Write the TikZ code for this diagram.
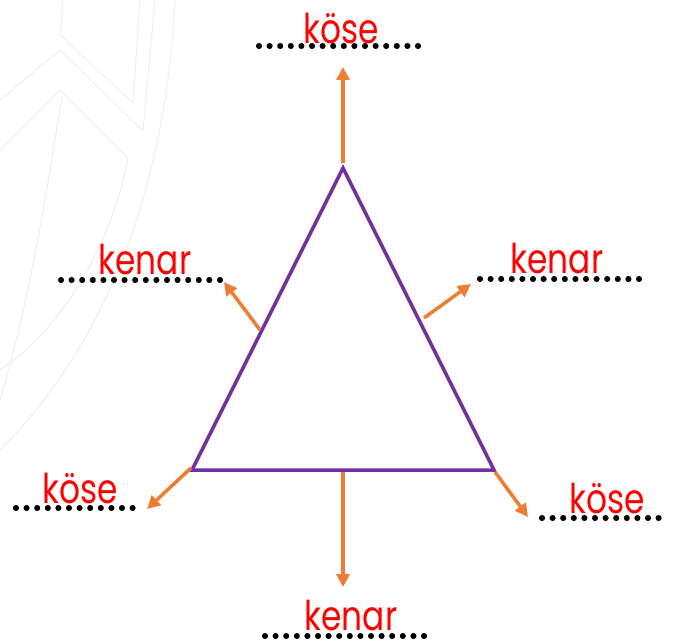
\documentclass[tikz,border=0pt]{standalone}
\usepackage{fontspec}
\setmainfont{Poppins}
\usetikzlibrary{arrows.meta}
\definecolor{tri}{HTML}{7030A0}
\definecolor{arr}{HTML}{ED7D31}
\definecolor{lbl}{HTML}{FF0000}
\definecolor{wm}{HTML}{EEEEEE}
\tikzset{
  tri/.style={draw=tri, line width=3.5pt, line join=miter},
  pointer/.style={draw=arr, line width=3.5pt, -{Triangle[length=13pt,width=13pt]}},
  dotrow/.style={line width=6pt, line cap=round, dash pattern=on 0pt off 10.6pt},
  word/.style={text=lbl, font=\fontsize{41}{41}\selectfont, inner sep=0pt, anchor=base, xscale=0.8},
}
\begin{document}
\begin{tikzpicture}[x=1pt,y=-1pt]
\useasboundingbox (0,0) rectangle (680,644);
% faint watermark
\draw[wm, line width=1pt] (63,0) -- (60,35) -- (133,103) -- (140,0);
\draw[wm, line width=1pt] (0,100) -- (60,50) -- (143,131) -- (155,0);
\draw[wm, line width=1pt] (0,150) -- (60,90) -- (128,158) .. controls (110,250) and (60,330) .. (0,370);
\draw[wm, line width=1pt] (62,97) .. controls (45,200) and (30,300) .. (0,400);
\draw[wm, line width=1pt] (175,0) .. controls (165,200) and (100,350) .. (0,450);
% triangle
\coordinate (A) at (343,168);
\coordinate (B) at (192,470);
\coordinate (C) at (494,470);
\draw[tri] (A) -- (B) -- (C) -- cycle;
% arrow ends
\coordinate (a1s) at (343,163); \coordinate (a1e) at (343,67);
\coordinate (a2s) at (260,330); \coordinate (a2e) at (224,282);
\coordinate (a3s) at (424,318); \coordinate (a3e) at (471,284);
\coordinate (a4s) at (191,468); \coordinate (a4e) at (147,509);
\coordinate (a5s) at (495,472); \coordinate (a5e) at (528,517);
\coordinate (a6s) at (343,472); \coordinate (a6e) at (343,587);
\foreach \i in {1,...,6} \draw[pointer] (a\i s) -- (a\i e);
% dotted answer lines
\coordinate (d1s) at (259,46); \coordinate (d1e) at (418,46);
\coordinate (d2s) at (61,280); \coordinate (d2e) at (220,280);
\coordinate (d3s) at (480,279); \coordinate (d3e) at (639,279);
\coordinate (d4s) at (16,508); \coordinate (d4e) at (141,508);
\coordinate (d5s) at (542,518); \coordinate (d5e) at (667,518);
\coordinate (d6s) at (265,636); \coordinate (d6e) at (424,636);
\foreach \i in {1,...,6} {
  \draw[dotrow, black!30, shift={(1.2pt,-1.8pt)}] (d\i s) -- (d\i e);
  \draw[dotrow, black] (d\i s) -- (d\i e);
}
% labels
\node[word] (l1) at (341,44) {köse};
\node[word] (l2) at (145,275) {kenar};
\node[word] (l3) at (557,274) {kenar};
\node[word] (l4) at (80,503) {köse};
\node[word] (l5) at (607,513) {köse};
\node[word] (l6) at (351,630) {kenar};
\end{tikzpicture}
\end{document}
